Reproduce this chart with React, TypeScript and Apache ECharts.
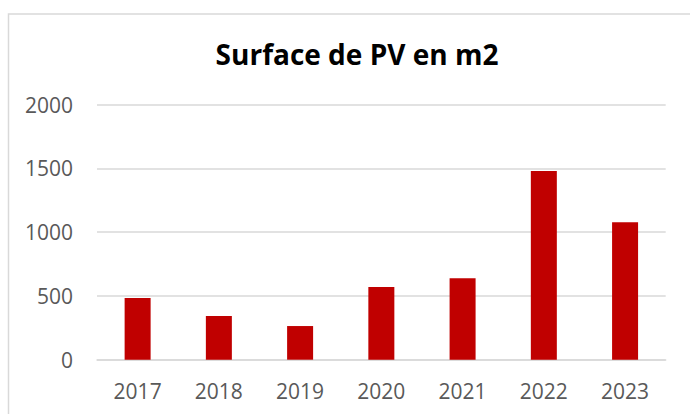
import React, { useEffect, useRef } from "react";
import * as echarts from "echarts";

const categories: string[] = ["2017", "2018", "2019", "2020", "2021", "2022", "2023"];
const surfaceValues: number[] = [484, 343, 264, 570, 638, 1480, 1078];
const titleText = "Surface de PV en m2";

export default function App() {
  const ref = useRef<HTMLDivElement>(null);
  useEffect(() => {
    if (!ref.current) return;
    const chart = echarts.init(ref.current, undefined, { renderer: "svg" });
    const font = "'Open Sans', 'Noto Sans', sans-serif";
    chart.setOption({
      animation: false,
      backgroundColor: "#ffffff",
      title: {
        text: titleText,
        left: 352,
        top: 35,
        textAlign: "center",
        textStyle: { fontFamily: font, fontSize: 28, fontWeight: "bold", color: "#000000" },
      },
      graphic: [
        {
          type: "rect",
          shape: { x: 8.5, y: 14, width: 700, height: 420 },
          style: { fill: "none", stroke: "#d9d9d9", lineWidth: 1.5 },
          silent: true,
        },
      ],
      grid: { left: 97, right: 24.3, top: 104.7, bottom: 54.3 },
      xAxis: {
        type: "category",
        data: categories,
        axisLine: { show: true, lineStyle: { color: "#d9d9d9", width: 1.5 } },
        axisTick: { show: false },
        axisLabel: { color: "#595959", fontFamily: font, fontSize: 21, margin: 21 },
      },
      yAxis: {
        type: "value",
        min: 0,
        max: 2000,
        interval: 500,
        axisLine: { show: false },
        axisTick: { show: false },
        splitLine: { lineStyle: { color: "#d9d9d9", width: 1.5 } },
        axisLabel: {
          color: "#595959",
          fontFamily: font,
          fontSize: 21,
          margin: 24,
          formatter: (v: number) => String(v),
        },
      },
      series: [
        {
          type: "bar",
          data: surfaceValues,
          barWidth: 26,
          itemStyle: { color: "#c00000" },
        },
      ],
    });
    return () => chart.dispose();
  }, []);
  return (
    <div
      ref={ref}
      style={{ position: "absolute", left: 0, top: 0, width: 690, height: 414 }}
    />
  );
}
